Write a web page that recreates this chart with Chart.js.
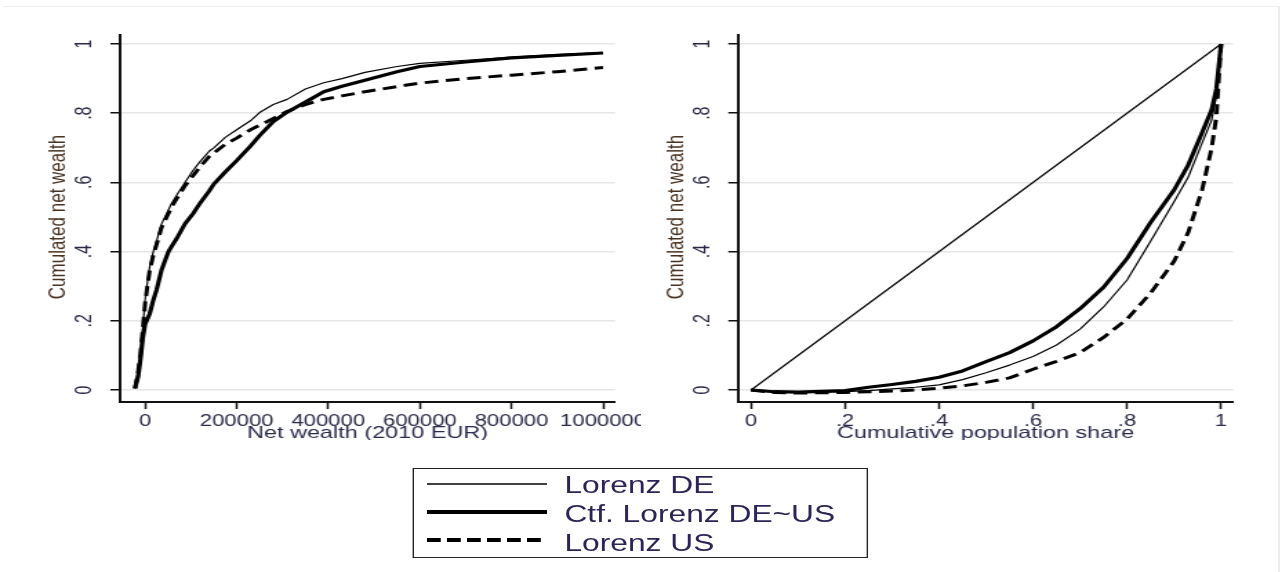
<!DOCTYPE html>
<html>
<head>
<meta charset="utf-8">
<script src="https://cdn.jsdelivr.net/npm/chart.js@4.4.0/dist/chart.umd.min.js"></script>
<style>
html,body{margin:0;padding:0;background:#fff;width:1282px;height:572px;overflow:hidden;}
#frame{position:absolute;left:3px;top:6px;width:1277px;height:580px;border-top:1.5px solid #efefef;border-right:2px solid #ececec;box-sizing:border-box;}
#stage{position:absolute;left:0;top:0;width:929px;height:572px;transform:scaleX(1.38);transform-origin:0 0;}
#leftWrap{position:absolute;left:0;top:0;width:464px;height:440px;overflow:hidden;}
#rightWrap{position:absolute;left:464px;top:0;width:465px;height:440px;overflow:hidden;}
canvas{position:absolute;left:0;top:0;}
#legendBox{position:absolute;left:299px;top:468px;width:330px;height:90px;border:1.5px solid #222;box-sizing:border-box;}
#legendSvg{position:absolute;left:0;top:0;}
.lt{position:absolute;left:409px;font-family:"Liberation Sans",Arial,sans-serif;font-size:23px;line-height:normal;color:#2e2356;white-space:nowrap;}
</style>
</head>
<body>
<div id="frame"></div>
<div id="stage">
  <div id="leftWrap"><canvas id="cL" width="530" height="440" style="width:530px;height:440px"></canvas></div>
  <div id="rightWrap"><canvas id="cR" width="465" height="440" style="width:465px;height:440px"></canvas></div>
  <div id="legendBox"></div>
  <svg id="legendSvg" width="929" height="572"></svg>
  <div class="lt" id="lt0" style="top:472px"></div>
  <div class="lt" id="lt1" style="top:501px"></div>
  <div class="lt" id="lt2" style="top:530px"></div>
</div>
<script>
// ---------- data ----------
const SERIES_NAMES = ['Lorenz DE', 'Ctf. Lorenz DE~US', 'Lorenz US'];

// Left panel: cumulated net wealth vs net wealth (2010 EUR)
const wealth = [-22000,-15000,-10000,-5000,0,5000,10000,18000,25000,36000,51000,58000,70000,87000,105000,120000,140000,150000,175000,200000,230000,250000,280000,310000,350000,390000,430000,480000,550000,600000,700000,800000,900000,1000000];
const wealthDE  = [0.006,0.06,0.11,0.18,0.26,0.31,0.355,0.40,0.43,0.48,0.52,0.54,0.565,0.60,0.635,0.66,0.69,0.70,0.73,0.752,0.778,0.802,0.825,0.84,0.87,0.888,0.90,0.918,0.935,0.944,0.953,0.962,0.969,0.975];
const wealthCtf = [0.005,0.04,0.09,0.15,0.19,0.205,0.22,0.26,0.289,0.347,0.40,0.415,0.44,0.48,0.51,0.54,0.575,0.595,0.63,0.663,0.705,0.735,0.776,0.803,0.832,0.862,0.878,0.895,0.92,0.935,0.948,0.96,0.967,0.974];
const wealthUS  = [0.004,0.055,0.105,0.175,0.25,0.30,0.345,0.39,0.42,0.47,0.51,0.53,0.555,0.59,0.62,0.645,0.675,0.685,0.71,0.728,0.752,0.765,0.785,0.805,0.825,0.84,0.85,0.862,0.877,0.887,0.90,0.91,0.92,0.932];

// Right panel: Lorenz curves vs cumulative population share
const popShare = [0,0.05,0.1,0.2,0.25,0.3,0.35,0.4,0.45,0.5,0.55,0.6,0.65,0.7,0.75,0.8,0.85,0.9,0.93,0.96,0.98,0.99,1];
const lorenzDE  = [0,-0.005,-0.007,-0.005,-0.002,0.003,0.008,0.015,0.03,0.05,0.072,0.097,0.13,0.176,0.24,0.318,0.43,0.544,0.615,0.715,0.78,0.85,1];
const lorenzCtf = [0,-0.005,-0.006,-0.002,0.008,0.016,0.025,0.037,0.055,0.082,0.108,0.142,0.183,0.235,0.297,0.38,0.484,0.578,0.65,0.745,0.81,0.87,1];
const lorenzUS  = [0,-0.007,-0.009,-0.007,-0.005,-0.003,0.0,0.005,0.012,0.022,0.035,0.06,0.083,0.108,0.152,0.205,0.28,0.372,0.455,0.58,0.70,0.79,1];
const equalityX = [0,1];
const equalityY = [0,1];

// tick values / labels
const leftXTicks  = [0,200000,400000,600000,800000,1000000];
const leftXLabels = ['0','200000','400000','600000','800000','1000000'];
const rightXTicks  = [0,0.2,0.4,0.6,0.8,1];
const rightXLabels = ['0','.2','.4','.6','.8','1'];
const yTicks  = [0,0.2,0.4,0.6,0.8,1];
const yLabels = ['0','.2','.4','.6','.8','1'];

const Y_TITLE = 'Cumulated net wealth';
const LEFT_X_TITLE = 'Net wealth (2010 EUR)';
const RIGHT_X_TITLE = 'Cumulative population share';

// ---------- styles ----------
const FONT = '"Liberation Sans", Arial, sans-serif';
const TICK_COLOR = '#2a2a48';
const STYLES = [
  {borderWidth:1.2, borderDash:[]},
  {borderWidth:3.2, borderDash:[]},
  {borderWidth:3.0, borderDash:[10,5.5]}
];

function pts(xs, ys){ return xs.map((x,i)=>({x:x, y:ys[i]})); }

const axisText = {
  id:'axisText',
  afterDraw(chart, args, opts){
    const {ctx, chartArea} = chart;
    const y = chart.scales.y;
    ctx.save();
    ctx.fillStyle = TICK_COLOR;
    ctx.textAlign = 'center';
    ctx.textBaseline = 'middle';
    ctx.font = '16px ' + FONT;
    yTicks.forEach((v,i)=>{
      const py = y.getPixelForValue(v);
      ctx.save();
      ctx.translate(chartArea.left - 25, py);
      ctx.rotate(-Math.PI/2);
      ctx.fillText(yLabels[i], 0, 0);
      ctx.restore();
    });
    ctx.font = '17px ' + FONT;
    ctx.fillStyle = '#4a3222';
    ctx.save();
    ctx.translate(chartArea.left - 44.5, (y.getPixelForValue(0)+y.getPixelForValue(1))/2);
    ctx.rotate(-Math.PI/2);
    ctx.fillText(Y_TITLE, 0, 0);
    ctx.restore();
    ctx.fillStyle = '#2a2a50';
    ctx.font = '17px ' + FONT;
    ctx.fillText(opts.xTitle, (chartArea.left+chartArea.right)/2, chartArea.bottom + 31);
    ctx.restore();
  }
};

function makeChart(canvasId, datasets, xmin, xmax, xTicks, xLabels, yAxisWidth, padRight, xTitle){
  return new Chart(document.getElementById(canvasId), {
    type:'line',
    data:{datasets:datasets},
    plugins:[axisText],
    options:{
      responsive:false,
      animation:false,
      devicePixelRatio:1,
      layout:{padding:{top:35, right:padRight, left:0, bottom:0}},
      elements:{point:{radius:0, hoverRadius:0}, line:{tension:0, borderCapStyle:'butt', borderJoinStyle:'round'}},
      plugins:{legend:{display:false}, tooltip:{enabled:false}, axisText:{xTitle:xTitle}},
      scales:{
        x:{
          type:'linear', min:xmin, max:xmax,
          afterBuildTicks:(s)=>{ s.ticks = xTicks.map(v=>({value:v})); },
          afterFit:(s)=>{ s.height = 38; },
          ticks:{autoSkip:false, maxRotation:0, minRotation:0, padding:3,
                 font:{family:FONT, size:16}, color:TICK_COLOR,
                 callback:(v,i)=>xLabels[i]},
          grid:{drawOnChartArea:false, drawTicks:true, tickLength:7, tickColor:'#111', tickWidth:1.5},
          border:{display:true, color:'#111', width:2}
        },
        y:{
          type:'linear', min:-0.0347, max:1.026,
          afterBuildTicks:(s)=>{ s.ticks = yTicks.map(v=>({value:v})); },
          afterFit:(s)=>{ s.width = yAxisWidth; },
          ticks:{display:false},
          grid:{color:'#e6e6e6', lineWidth:1.5, drawTicks:true, tickLength:7, tickColor:'#111', tickWidth:1.5},
          border:{display:true, color:'#111', width:2}
        }
      }
    }
  });
}

function ds(label, xs, ys, st){
  return Object.assign({label:label, data:pts(xs,ys), borderColor:'#000', backgroundColor:'#000', fill:false}, st);
}

makeChart('cL', [
  ds(SERIES_NAMES[0], wealth, wealthDE, STYLES[0]),
  ds(SERIES_NAMES[1], wealth, wealthCtf, STYLES[1]),
  ds(SERIES_NAMES[2], wealth, wealthUS, STYLES[2])
], -54600, 1026200, leftXTicks, leftXLabels, 87, 530-445.7, LEFT_X_TITLE);

makeChart('cR', [
  ds('Equality', equalityX, equalityY, {borderWidth:1.2, borderDash:[]}),
  ds(SERIES_NAMES[0], popShare, lorenzDE, STYLES[0]),
  ds(SERIES_NAMES[1], popShare, lorenzCtf, STYLES[1]),
  ds(SERIES_NAMES[2], popShare, lorenzUS, STYLES[2])
], -0.0277, 1.0255, rightXTicks, rightXLabels, 70.8, 465-429.5, RIGHT_X_TITLE);

// ---------- legend ----------
const svg = document.getElementById('legendSvg');
const legendRows = [484, 512, 540];
const legendStyles = [{w:1.4, dash:''},{w:4, dash:''},{w:4, dash:'10 4.5'}];
SERIES_NAMES.forEach((name,i)=>{
  const l = document.createElementNS('http://www.w3.org/2000/svg','line');
  l.setAttribute('x1', 309.4); l.setAttribute('x2', 396.4);
  l.setAttribute('y1', legendRows[i]); l.setAttribute('y2', legendRows[i]);
  l.setAttribute('stroke', '#000');
  l.setAttribute('stroke-width', legendStyles[i].w);
  if (legendStyles[i].dash) l.setAttribute('stroke-dasharray', legendStyles[i].dash);
  svg.appendChild(l);
  document.getElementById('lt'+i).textContent = name;
});
</script>
</body>
</html>
